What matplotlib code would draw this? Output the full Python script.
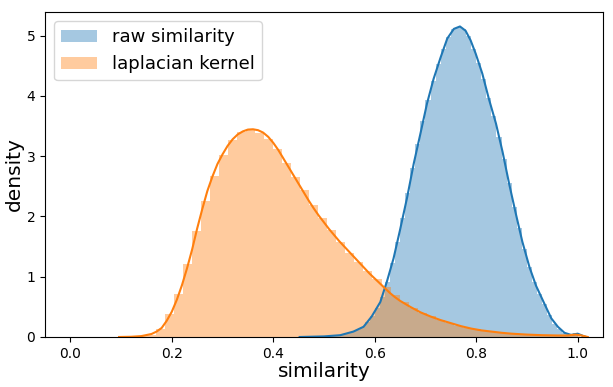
import numpy as np
import matplotlib
matplotlib.use("Agg")
import matplotlib.pyplot as plt

# ---- data ----
# laplacian kernel histogram: 50 bins from 0.115 to 1.005
lap_range = (0.115, 1.005)
lap_hist = [0.005, 0.015, 0.04, 0.14, 0.38, 0.72, 1.21, 1.75, 2.25, 2.67,
            3.02, 3.26, 3.40, 3.44, 3.39, 3.29, 3.11, 2.88, 2.65, 2.43,
            2.19, 1.97, 1.77, 1.57, 1.40, 1.25, 1.10, 0.96, 0.83, 0.70,
            0.58, 0.48, 0.40, 0.34, 0.28, 0.23, 0.19, 0.155, 0.125, 0.10,
            0.08, 0.067, 0.055, 0.045, 0.038, 0.032, 0.028, 0.025, 0.025, 0.04]

# raw similarity histogram: 50 bins from 0.5 to 1.0
raw_range = (0.5, 1.0)
raw_hist = [0.01, 0.015, 0.02, 0.03, 0.05, 0.08, 0.12, 0.16, 0.25, 0.35,
            0.48, 0.66, 0.92, 1.22, 1.58, 1.98, 2.38, 2.80, 3.20, 3.58,
            3.93, 4.25, 4.52, 4.78, 4.98, 5.10, 5.14, 5.11, 4.99, 4.78,
            4.54, 4.28, 3.96, 3.66, 3.32, 2.96, 2.56, 2.16, 1.80, 1.46,
            1.16, 0.92, 0.72, 0.54, 0.36, 0.22, 0.14, 0.07, 0.04, 0.06]

# kde curves
lap_kde_x = [0.096, 0.12, 0.14, 0.16, 0.17, 0.18, 0.19, 0.20, 0.21, 0.22,
             0.23, 0.24, 0.25, 0.26, 0.27, 0.28, 0.29, 0.30, 0.31, 0.32,
             0.33, 0.34, 0.35, 0.36, 0.37, 0.38, 0.39, 0.40, 0.41, 0.42,
             0.43, 0.44, 0.45, 0.46, 0.47, 0.48, 0.49, 0.50, 0.51, 0.52,
             0.53, 0.54, 0.55, 0.56, 0.57, 0.58, 0.59, 0.60, 0.61, 0.62,
             0.63, 0.64, 0.65, 0.66, 0.67, 0.69, 0.71, 0.73, 0.75, 0.77,
             0.79, 0.81, 0.83, 0.85, 0.87, 0.90, 0.93, 0.96, 0.98, 0.995,
             1.005, 1.02]
lap_kde_y = [0.0, 0.004, 0.015, 0.05, 0.09, 0.15, 0.27, 0.42, 0.62, 0.86,
             1.14, 1.45, 1.80, 2.12, 2.42, 2.66, 2.87, 3.03, 3.17, 3.28,
             3.36, 3.41, 3.44, 3.445, 3.43, 3.39, 3.32, 3.22, 3.10, 2.96,
             2.82, 2.68, 2.54, 2.40, 2.26, 2.13, 2.01, 1.90, 1.79, 1.69,
             1.59, 1.50, 1.41, 1.32, 1.23, 1.14, 1.05, 0.97, 0.89, 0.81,
             0.73, 0.66, 0.60, 0.55, 0.50, 0.41, 0.34, 0.28, 0.23, 0.18,
             0.14, 0.11, 0.09, 0.07, 0.055, 0.04, 0.03, 0.025, 0.025, 0.04,
             0.03, 0.0]

raw_kde_x = [0.452, 0.50, 0.532, 0.558, 0.578, 0.594, 0.611, 0.624, 0.637,
             0.650, 0.664, 0.677, 0.690, 0.703, 0.716, 0.730, 0.743, 0.756,
             0.768, 0.779, 0.789, 0.799, 0.812, 0.825, 0.839, 0.852, 0.865,
             0.878, 0.891, 0.905, 0.918, 0.934, 0.948, 0.961, 0.974, 0.987,
             1.000, 1.010, 1.017]
raw_kde_y = [0.0, 0.01, 0.03, 0.09, 0.17, 0.34, 0.58, 0.92, 1.30,
             1.78, 2.32, 2.88, 3.37, 3.87, 4.28, 4.64, 4.95, 5.11,
             5.15, 5.08, 4.92, 4.70, 4.37, 3.95, 3.54, 3.07, 2.54,
             2.05, 1.58, 1.16, 0.85, 0.56, 0.31, 0.17, 0.07, 0.035,
             0.055, 0.02, 0.0]

blue = "#1f77b4"
orange = "#ff7f0e"

fig = plt.figure(figsize=(6.13, 3.87), dpi=100)
ax = fig.add_axes([0.0734, 0.1292, 0.9103, 0.8398])

# raw similarity
raw_edges = np.linspace(raw_range[0], raw_range[1], len(raw_hist) + 1)
ax.bar(raw_edges[:-1], raw_hist, width=np.diff(raw_edges), align="edge",
       color=blue, alpha=0.4, linewidth=0, label="raw similarity")
ax.plot(raw_kde_x, raw_kde_y, color=blue, lw=1.5)

# laplacian kernel
lap_edges = np.linspace(lap_range[0], lap_range[1], len(lap_hist) + 1)
ax.bar(lap_edges[:-1], lap_hist, width=np.diff(lap_edges), align="edge",
       color=orange, alpha=0.4, linewidth=0, label="laplacian kernel")
ax.plot(lap_kde_x, lap_kde_y, color=orange, lw=1.5)

ax.set_xlim(-0.05, 1.05)
ax.set_ylim(0, 5.39)
ax.set_xticks([0.0, 0.2, 0.4, 0.6, 0.8, 1.0])
ax.tick_params(labelsize=10)
ax.set_xlabel("similarity", fontsize=14.5, labelpad=1)
ax.set_ylabel("density", fontsize=14.5, labelpad=2)
ax.legend(loc="upper left", fontsize=13)

fig.savefig("out.png", dpi=100)
